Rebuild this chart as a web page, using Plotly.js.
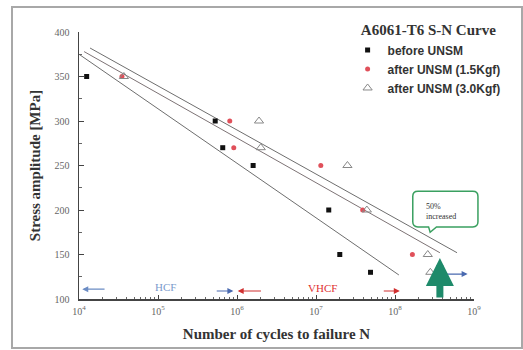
<!DOCTYPE html>
<html><head><meta charset="utf-8">
<script src="https://cdn.plot.ly/plotly-3.0.1.min.js"></script>
<style>
html,body{margin:0;padding:0;background:#fff;}
#chart{width:523px;height:350px;}
#frame{position:absolute;left:11px;top:6px;width:508px;height:339px;border:2px solid #a8a8a8;pointer-events:none;}
</style></head>
<body>
<div id="chart"></div>
<div id="frame"></div>
<script>
// S-N data (cycles to failure, stress amplitude MPa)
var beforeN = [1.25e4, 5.3e5, 6.6e5, 1.6e6, 1.45e7, 2.0e7, 4.9e7];
var beforeS = [350, 300, 270, 250, 200, 150, 130];
var after15N = [3.5e4, 8.1e5, 9.1e5, 1.15e7, 3.9e7, 1.66e8];
var after15S = [350, 300, 270, 250, 200, 150];
var after30N = [3.7e4, 1.9e6, 2.0e6, 2.5e7, 4.4e7, 2.6e8, 2.8e8];
var after30S = [350, 300, 270, 250, 200, 150, 130];
// fitted S-N lines (end points)
var fitBeforeN = [1.0e4, 1.12e8];
var fitBeforeS = [375, 127];
var fit15N = [1.16e4, 3.7e8];
var fit15S = [378, 152];
var fit30N = [1.38e4, 6.1e8];
var fit30S = [382, 152];
// axis ticks
var xTickVals = [1e4, 1e5, 1e6, 1e7, 1e8, 1e9];
var xTickText = ['10<sup>4</sup>','10<sup>5</sup>','10<sup>6</sup>','10<sup>7</sup>','10<sup>8</sup>','10<sup>9</sup>'];
var yTickVals = [100, 150, 200, 250, 300, 350, 400];

var serif = '"Liberation Serif", "DejaVu Serif", serif';
var sans = '"Liberation Sans", Arial, sans-serif';

var traces = [
  {x: fitBeforeN, y: fitBeforeS, mode: 'lines', line: {color: '#6e6e6e', width: 1}, showlegend: false, hoverinfo: 'skip'},
  {x: fit15N, y: fit15S, mode: 'lines', line: {color: '#7d7375', width: 1}, showlegend: false, hoverinfo: 'skip'},
  {x: fit30N, y: fit30S, mode: 'lines', line: {color: '#6e6e6e', width: 1}, showlegend: false, hoverinfo: 'skip'},
  {x: beforeN, y: beforeS, mode: 'markers', name: '<b>before UNSM</b>',
   marker: {symbol: 'square', size: 5, color: '#111'}},
  {x: after15N, y: after15S, mode: 'markers', name: '<b>after UNSM (1.5Kgf)</b>',
   marker: {symbol: 'circle', size: 5, color: '#e0505a'}},
  {x: after30N, y: after30S, mode: 'markers', name: '<b>after UNSM (3.0Kgf)</b>',
   marker: {symbol: 'triangle-up-open', size: 8, color: '#888', line: {width: 1}}}
];

function arrow(x, y, ax, ay, color, w, head, size) {
  return {x: Math.log10(x), y: y, ax: Math.log10(ax), ay: ay, xref: 'x', yref: 'y', axref: 'x', ayref: 'y',
    showarrow: true, arrowhead: head || 2, arrowsize: size || 1, arrowwidth: w || 1.2, arrowcolor: color, text: ''};
}

var annotations = [
  arrow(1.1e4, 111, 2.2e4, 111, '#6b8cc4'),
  {x: Math.log10(1.25e5), y: 113, xref: 'x', yref: 'y', text: 'HCF', showarrow: false,
   font: {family: serif, size: 11, color: '#7a9acc'}},
  arrow(9.0e5, 109, 5.3e5, 109, '#4a6ab0'),
  arrow(1.02e6, 109, 2.1e6, 109, '#d03030'),
  {x: Math.log10(1.2e7), y: 112, xref: 'x', yref: 'y', text: 'VHCF', showarrow: false,
   font: {family: serif, size: 11, color: '#e03030'}},
  arrow(1.15e8, 109, 6.9e7, 109, '#d03030'),
  arrow(8.3e8, 128, 4.3e8, 128, '#4a6ab0'),
  arrow(3.7e8, 146, 3.7e8, 100, '#1e8a6a', 7, 2, 0.8),
  {x: Math.log10(2.3e8), y: 198, xref: 'x', yref: 'y', xanchor: 'left', align: 'left',
   text: '50%<br>increased', showarrow: false, font: {family: serif, size: 8, color: '#333'}}
];

var shapes = [
  {type: 'path', xref: 'paper', yref: 'paper',
   path: 'M 0.858 0.404 L 0.997 0.404 Q 1.010 0.404 1.010 0.385 L 1.010 0.289 Q 1.010 0.270 0.997 0.270 ' +
         'L 0.905 0.270 L 0.889 0.250 L 0.885 0.270 L 0.858 0.270 Q 0.845 0.270 0.845 0.289 L 0.845 0.385 Q 0.845 0.404 0.858 0.404 Z',
   line: {color: '#3aa060', width: 1.5}, fillcolor: 'rgba(255,255,255,0.9)'}
];

var layout = {
  width: 523, height: 350,
  margin: {l: 79, r: 49, t: 32, b: 51},
  paper_bgcolor: '#fff', plot_bgcolor: '#fff',
  showlegend: true,
  legend: {x: 0.68, y: 1.06, xanchor: 'left', yanchor: 'top', bgcolor: 'rgba(0,0,0,0)',
    font: {family: sans, size: 12, color: '#333'}, itemwidth: 30, tracegroupgap: 0,
    title: {text: '\u00a0\u00a0\u00a0<b>A6061-T6 S-N Curve</b>', font: {family: serif, size: 15, color: '#333'}}},
  xaxis: {type: 'log', range: [4, 9], tickvals: xTickVals, ticktext: xTickText,
    ticks: 'inside', ticklen: 4, tickcolor: '#444', showline: true, linecolor: '#444', linewidth: 1.5,
    showgrid: false, zeroline: false, tickfont: {family: serif, size: 10, color: '#666'}, ticklabelstandoff: 2,
    minor: {ticks: 'inside', ticklen: 2, dtick: 'D1', tickcolor: '#666', showgrid: false},
    title: {text: '<b>Number of cycles to failure N</b>', font: {family: serif, size: 15, color: '#333'}, standoff: 13}},
  yaxis: {range: [100, 400], tickvals: yTickVals,
    ticks: 'inside', ticklen: 5, tickcolor: '#444', showline: true, linecolor: '#444', linewidth: 1.5,
    showgrid: false, zeroline: false, tickfont: {family: serif, size: 10, color: '#666'}, ticklabelstandoff: 6,
    minor: {ticks: 'inside', ticklen: 3, dtick: 25, tickcolor: '#666', showgrid: false},
    title: {text: '<b>Stress amplitude [MPa]</b>', font: {family: serif, size: 15, color: '#333'}, standoff: 10}},
  annotations: annotations,
  shapes: shapes
};

Plotly.newPlot('chart', traces, layout, {displayModeBar: false, staticPlot: true});
</script>
</body></html>
